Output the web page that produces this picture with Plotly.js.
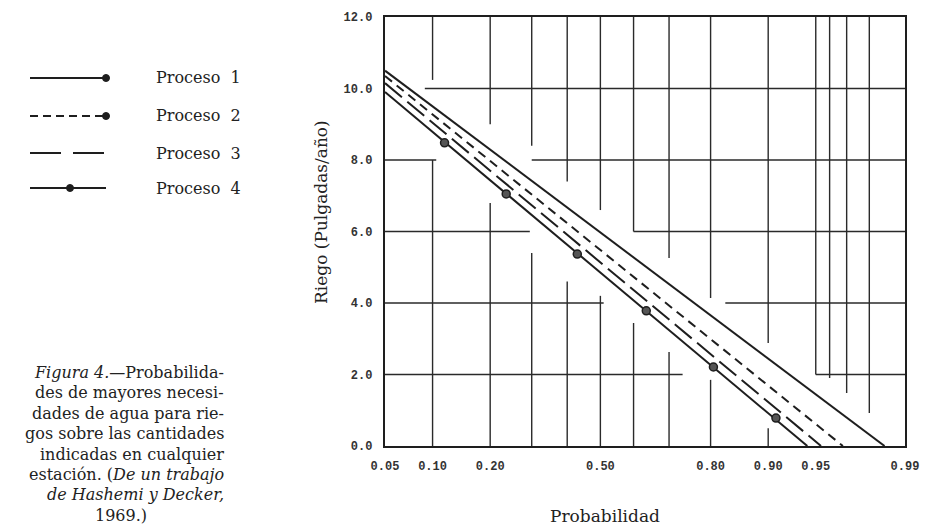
<!DOCTYPE html>
<html>
<head>
<meta charset="utf-8">
<script src="https://cdn.plot.ly/plotly-3.0.1.min.js"></script>
<style>html,body{margin:0;padding:0;background:#fff;}#chart{width:925px;height:529px;}</style>
</head>
<body>
<div id="chart"></div>
<script>
// ---- data (probabilities and riego in pulgadas/año) ----
var gridProbs = [0.05, 0.10, 0.20, 0.30, 0.40, 0.50, 0.60, 0.70, 0.80, 0.90, 0.95, 0.96, 0.97, 0.98, 0.99];
var gridLabels = ["0.05", "0.10", "0.20", "", "", "0.50", "", "", "0.80", "0.90", "0.95", "", "", "", "0.99"];
var yTicks = [0, 2, 4, 6, 8, 10, 12];
var yTickText = ["0.0", "2.0", "4.0", "6.0", "8.0", "10.0", "12.0"];

var p1Prob = [0.05, 0.985];  var p1Riego = [10.50, 0];
var p2Prob = [0.05, 0.968];  var p2Riego = [10.35, 0];
var p3Prob = [0.05, 0.954];  var p3Riego = [10.15, 0];
var p4Prob = [0.05, 0.943];  var p4Riego = [9.90, 0];
var p4PtProb = [0.117, 0.236, 0.430, 0.637, 0.806, 0.910];
var p4PtRiego = [8.48, 7.05, 5.37, 3.78, 2.21, 0.78];

var legendNames = ["Proceso  1", "Proceso  2", "Proceso  3", "Proceso  4"];
var captionLines = [
  "<i>Figura 4.</i>\u2014Probabilida-",
  "des de mayores necesi-",
  "dades de agua para rie-",
  "gos sobre las cantidades",
  "indicadas en cualquier",
  "estación. (<i>De un trabajo</i>",
  "<i>de Hashemi y Decker,</i>",
  "1969.)"
];
var xTitle = "Probabilidad";
var yTitle = "Riego (Pulgadas/año)";

// inverse normal CDF (Acklam) -> normal probability scale
function probit(p) {
  var a = [-3.969683028665376e+01, 2.209460984245205e+02, -2.759285104469687e+02, 1.383577518672690e+02, -3.066479806614716e+01, 2.506628277459239e+00];
  var b = [-5.447609879822406e+01, 1.615858368580409e+02, -1.556989798598866e+02, 6.680131188771972e+01, -1.328068155288572e+01];
  var c = [-7.784894002430293e-03, -3.223964580411365e-01, -2.400758277161838e+00, -2.549732539343734e+00, 4.374664141464968e+00, 2.938163982698783e+00];
  var d = [7.784695709041462e-03, 3.224671290700398e-01, 2.445134137142996e+00, 3.754408661907416e+00];
  var pl = 0.02425, q, r;
  if (p < pl) { q = Math.sqrt(-2 * Math.log(p)); return (((((c[0]*q+c[1])*q+c[2])*q+c[3])*q+c[4])*q+c[5]) / ((((d[0]*q+d[1])*q+d[2])*q+d[3])*q+1); }
  if (p > 1 - pl) { q = Math.sqrt(-2 * Math.log(1 - p)); return -(((((c[0]*q+c[1])*q+c[2])*q+c[3])*q+c[4])*q+c[5]) / ((((d[0]*q+d[1])*q+d[2])*q+d[3])*q+1); }
  q = p - 0.5; r = q * q;
  return (((((a[0]*r+a[1])*r+a[2])*r+a[3])*r+a[4])*r+a[5])*q / (((((b[0]*r+b[1])*r+b[2])*r+b[3])*r+b[4])*r+1);
}
function z(arr) { return arr.map(probit); }

var ink = "#1e1e1e";
var serif = "DejaVu Serif, Liberation Serif, serif";
var mono = "Liberation Mono, DejaVu Sans Mono, monospace";

var traces = [
  {x: z(p1Prob), y: p1Riego, mode: "lines", name: legendNames[0], line: {color: ink, width: 2, dash: "solid"}},
  {x: z(p2Prob), y: p2Riego, mode: "lines", name: legendNames[1], line: {color: ink, width: 2, dash: "9px,6px"}},
  {x: z(p3Prob), y: p3Riego, mode: "lines", name: legendNames[2], line: {color: ink, width: 2, dash: "22px,7px"}},
  {x: z(p4Prob), y: p4Riego, mode: "lines", name: legendNames[3], line: {color: ink, width: 2, dash: "solid"}},
  {x: z(p4PtProb), y: p4PtRiego, mode: "markers", name: legendNames[3], showlegend: false,
   marker: {color: "#555", size: 8, line: {color: ink, width: 1.5}}}
];

// ---- decoration: the printed grid is drawn as broken segments ----
// vertical: [probability, from riego, to riego]
var vSeg = [
  [0.10, 10.24, 12], [0.10, 0, 8.0],
  [0.20, 9.0, 12], [0.20, 0, 6.8],
  [0.30, 8.4, 12], [0.30, 0, 5.4],
  [0.40, 7.4, 12], [0.40, 0, 4.6],
  [0.50, 6.6, 12], [0.50, 0, 4.2],
  [0.60, 6.0, 12], [0.60, 0, 3.44],
  [0.70, 5.26, 12], [0.70, 0, 2.63],
  [0.80, 4.14, 12], [0.80, 0, 1.85],
  [0.90, 2.88, 12], [0.90, 0, 0.5],
  [0.95, 2.0, 12], [0.96, 1.9, 12], [0.97, 1.48, 12], [0.98, 0.92, 12]
];
// horizontal: [riego, from probability, to probability]
var hSeg = [
  [10, 0.09, 0.99],
  [8, 0.05, 0.105], [8, 0.30, 0.99],
  [6, 0.05, 0.295], [6, 0.60, 0.99],
  [4, 0.05, 0.51], [4, 0.83, 0.99],
  [2, 0.05, 0.735], [2, 0.95, 0.99]
];
var gridStyle = {color: "#2a2a2a", width: 1.4};
var shapes = [], annotations = [];
vSeg.forEach(function (s) {
  shapes.push({type: "line", xref: "x", yref: "y", x0: probit(s[0]), x1: probit(s[0]), y0: s[1], y1: s[2], line: gridStyle, layer: "below"});
});
hSeg.forEach(function (s) {
  shapes.push({type: "line", xref: "x", yref: "y", x0: probit(s[1]), x1: probit(s[2]), y0: s[0], y1: s[0], line: gridStyle, layer: "below"});
});

// legend drawn at left, outside the plot area (paper coords)
var L = 385, W = 520, B = 446, H = 429;
function px(x) { return (x - L) / W; }
function py(y) { return (B - y) / H; }
var legY = [78, 116, 153, 188];
var legDash = ["solid", "8px,5px", "31px,12px", "solid"];
for (var i = 0; i < 4; i++) {
  shapes.push({type: "line", xref: "paper", yref: "paper", x0: px(30), x1: px(106), y0: py(legY[i]), y1: py(legY[i]),
               line: {color: ink, width: 2.2, dash: legDash[i]}});
  annotations.push({xref: "paper", yref: "paper", x: px(154), y: py(legY[i]), xanchor: "left", yanchor: "middle",
                    text: legendNames[i], showarrow: false, font: {family: serif, size: 16, color: "#222"}});
}
var dotX = [106, 106, null, 70];
for (var j = 0; j < 4; j++) {
  if (dotX[j] === null) continue;
  shapes.push({type: "circle", xref: "paper", yref: "paper", x0: px(dotX[j] - 3.5), x1: px(dotX[j] + 3.5),
               y0: py(legY[j] + 3.5), y1: py(legY[j] - 3.5), fillcolor: ink, line: {color: ink, width: 1}});
}
var capY = [372, 392, 413, 433, 454, 474, 494, 515];
for (var k = 0; k < captionLines.length; k++) {
  var last = (k === captionLines.length - 1);
  annotations.push({xref: "paper", yref: "paper", x: px(last ? 121 : 226), y: py(capY[k]),
                    xanchor: last ? "center" : "right", yanchor: "middle", text: captionLines[k], showarrow: false,
                    font: {family: serif, size: 16, color: "#222"}});
}
// axis titles placed as in the printed figure
annotations.push({xref: "paper", yref: "paper", x: px(605), y: py(516), xanchor: "center", yanchor: "middle",
                  text: xTitle, showarrow: false, font: {family: serif, size: 17, color: "#222"}});
annotations.push({xref: "paper", yref: "paper", x: px(321), y: py(212), xanchor: "center", yanchor: "middle",
                  text: yTitle, textangle: -90, showarrow: false, font: {family: serif, size: 17, color: "#222"}});

var layout = {
  width: 925, height: 529,
  margin: {l: 385, r: 20, t: 17, b: 83},
  paper_bgcolor: "#ffffff", plot_bgcolor: "#ffffff",
  showlegend: false,
  xaxis: {
    range: [probit(0.05), probit(0.99)],
    tickmode: "array", tickvals: z(gridProbs), ticktext: gridLabels,
    showgrid: false,
    zeroline: false, showline: true, linecolor: ink, linewidth: 2.2, mirror: true,
    ticks: "", ticklabelstandoff: 7,
    tickfont: {family: mono, size: 12, color: "#333", weight: "bold"}
  },
  yaxis: {
    range: [0, 12],
    tickmode: "array", tickvals: yTicks, ticktext: yTickText,
    showgrid: false,
    zeroline: false, showline: true, linecolor: ink, linewidth: 2.2, mirror: true,
    ticks: "", ticklabelstandoff: 8,
    tickfont: {family: mono, size: 12, color: "#333", weight: "bold"}
  },
  shapes: shapes,
  annotations: annotations
};

Plotly.newPlot("chart", traces, layout, {displayModeBar: false, staticPlot: true});
</script>
</body>
</html>
